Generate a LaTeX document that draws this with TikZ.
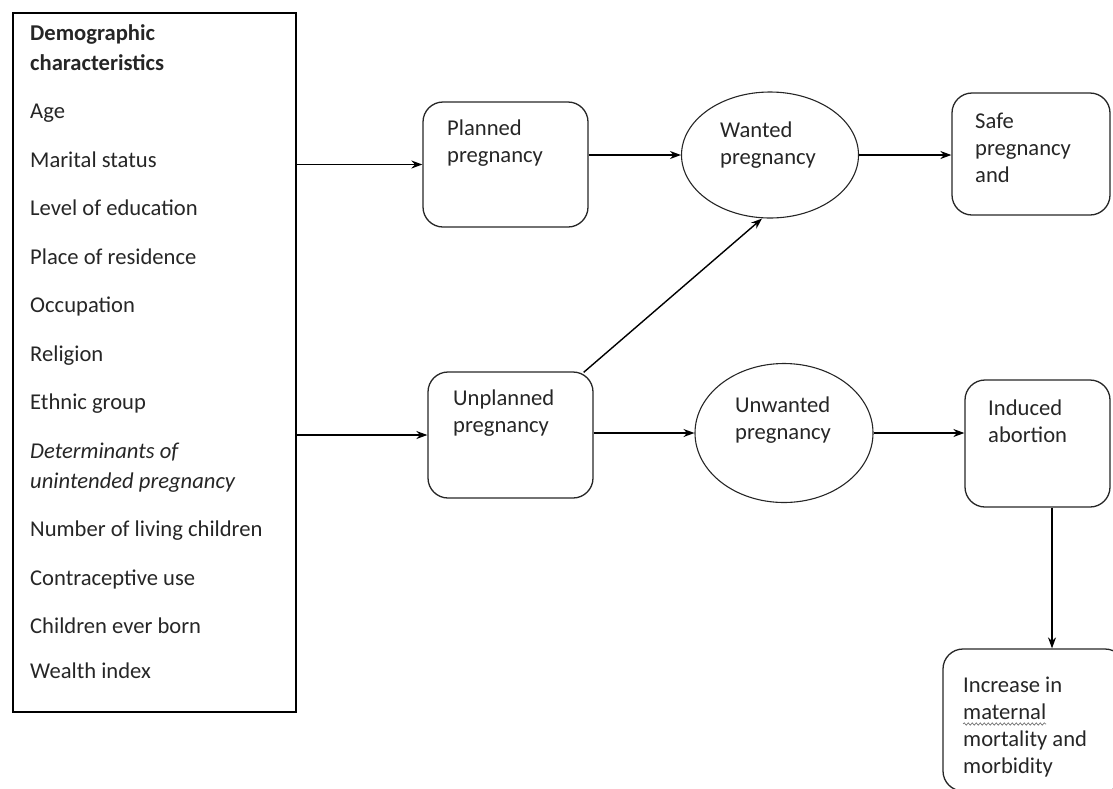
\documentclass[tikz,border=0pt]{standalone}
\usepackage{fontspec}
\setmainfont{Carlito}
\usetikzlibrary{arrows.meta,shapes.geometric,decorations.pathmorphing}

\begin{document}
\begin{tikzpicture}[x=1pt,y=-1pt,
  txt/.style={anchor=north west, inner sep=0pt, align=left, font=\fontsize{22.6}{27}\selectfont, text=black!85},
  ltxt/.style={anchor=base west, inner sep=0pt, font=\fontsize{22.6}{27}\selectfont, text=black!85},
  rbox/.style={draw=black!85, rounded corners=20pt, line width=1.3pt, inner sep=0pt},
  ell/.style={draw=black!85, ellipse, line width=1.1pt, inner sep=0pt},
  arr/.style={line width=1.4pt, -{Stealth[length=11pt,width=8pt]}},
]
\useasboundingbox (0,0) rectangle (1113,788);

% left box
\node[draw, line width=1.6pt, minimum width=283pt, minimum height=699pt, inner sep=0pt] (demo) at (154.5,362.5) {};
\foreach \yy/\lbl [count=\i] in {
  40/\textbf{Demographic},
  70/\textbf{characteristics},
  118.5/Age,
  167/Marital status,
  215.5/Level of education,
  264/Place of residence,
  312.5/Occupation,
  361/Religion,
  409.5/Ethnic group,
  458/\textit{Determinants of},
  488/\textit{unintended pregnancy},
  536.5/Number of living children,
  585/Contraceptive use,
  633.5/Children ever born,
  678/Wealth index}
  \node[ltxt] (d\i) at (30,\yy) {\lbl};

% boxes
\node[rbox, minimum width=165pt, minimum height=125pt] (planned) at (505.5,164.5) {};
\node[txt] (plannedt) at (447,116.1) {\strut Planned\\pregnancy};

\node[rbox, minimum width=165pt, minimum height=126pt] (unplanned) at (510.5,435) {};
\node[txt] (unplannedt) at (453,386.1) {\strut Unplanned\\pregnancy};

\node[ell, minimum width=177pt, minimum height=126pt] (wanted) at (770,155) {};
\node[txt] (wantedt) at (720,118.1) {\strut Wanted\\pregnancy};

\node[ell, minimum width=178pt, minimum height=139pt] (unwanted) at (784,433) {};
\node[txt] (unwantedt) at (735,393.1) {\strut Unwanted\\pregnancy};

\node[rbox, minimum width=158pt, minimum height=122pt] (safe) at (1031,154) {};
\node[txt] (safet) at (975,109.1) {\strut Safe\\pregnancy\\and};

\node[rbox, minimum width=145pt, minimum height=127pt] (induced) at (1037.5,443.5) {};
\node[txt] (inducedt) at (988,396.1) {\strut Induced\\abortion};

\node[rbox, minimum width=182pt, minimum height=142pt] (increase) at (1034,720) {};
\node[txt] (increaset) at (963,673.1) {\strut Increase in\\maternal\\mortality and\\morbidity};
\draw[black!60, line width=0.6pt, decorate, decoration={snake, amplitude=1.2pt, segment length=4pt}] (963,724) -- (1046,724);

% connectors
\draw[arr] (planned.west -| demo.east) -- (planned.west);
\draw[arr] (unplanned.west -| demo.east) -- (unplanned.west);
\draw[arr] (planned.east |- wanted.west) -- (wanted.west);
\draw[arr] (wanted.east) -- (safe.west |- wanted.east);
\draw[arr] (unplanned.east |- unwanted.west) -- (unwanted.west);
\draw[arr] (unwanted.east) -- (induced.west |- unwanted.east);
\draw[arr] ([xshift=-10pt,yshift=-1pt]unplanned.north east) -- ([xshift=-8pt]wanted.south);
\draw[arr] ([xshift=14.5pt]induced.south) -- ([xshift=14.5pt]induced.south |- increase.north);
\end{tikzpicture}
\end{document}
